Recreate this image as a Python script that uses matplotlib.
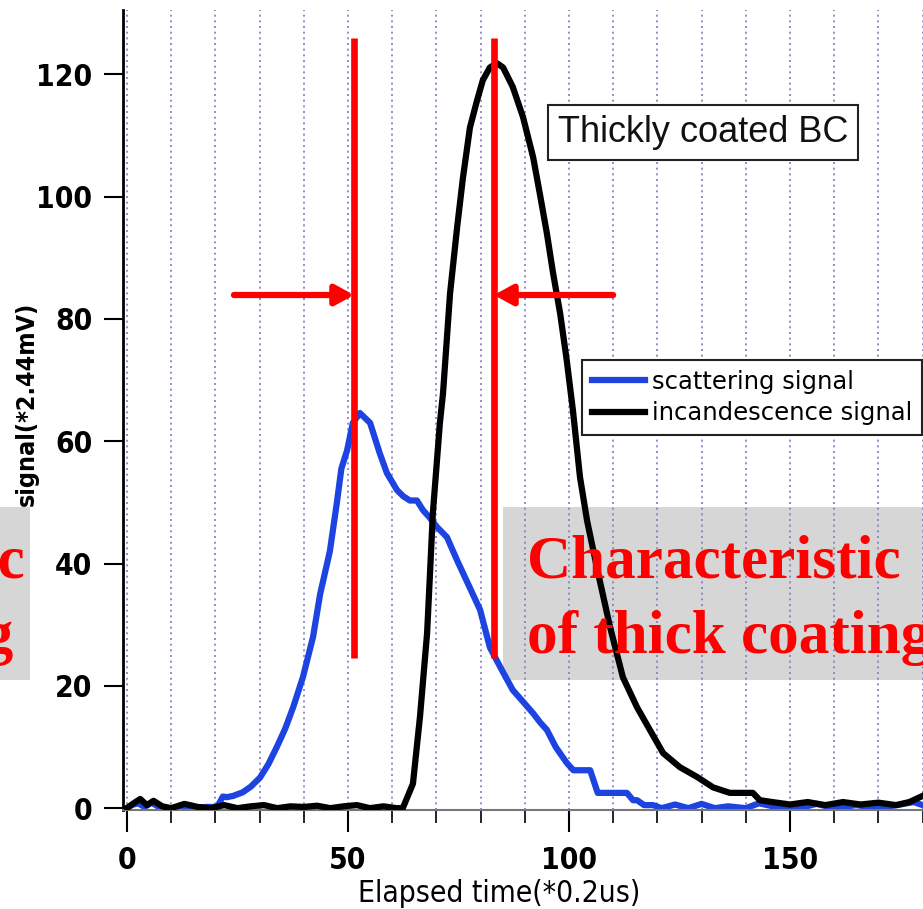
import numpy as np
import matplotlib.pyplot as plt
from matplotlib.patches import Rectangle
from matplotlib.ticker import MultipleLocator

# values (x in *0.2us, y in *2.44mV)
scat_x = [0, 1, 2.5, 4, 5.5, 7, 9, 12, 15, 18, 20.4, 21.7, 22.6, 24, 26.2, 28,
          30.1, 32, 33.9, 35.8, 37.6, 39.8, 42.1, 43.7, 45.9, 47.5, 48.5, 49.8,
          51.1, 52.7, 55, 57.2, 58.8, 61.1, 62.5, 64, 65.6, 67, 68.5, 70.1,
          72.4, 74.7, 77.6, 79.9, 82.1, 84.5, 87.3, 89.5, 91.9, 93.5, 95, 97,
          99.5, 101, 102.5, 104.8, 106.5, 108.6, 110.5, 113.1, 114.5, 115.4,
          117, 119, 121, 124, 127, 130, 133, 136, 140, 143, 148, 152, 156,
          160, 165, 170, 175, 178, 180]
scat_y = [0, 0.5, 0.8, 0.2, 0.9, 0.3, 0, 0, 0, 0.2, 0.2, 1.9, 1.8, 2.0, 2.6,
          3.5, 5, 7.2, 10, 13, 16.5, 21.4, 28, 35, 42, 50, 55.5, 58.5, 63,
          64.6, 63, 58, 54.8, 52, 51, 50.3, 50.3, 48.7, 47.5, 46, 44.3, 40.5,
          36, 32.4, 26.3, 23, 19.3, 17.5, 15.5, 14, 12.8, 10, 7.4, 6.2, 6.2,
          6.2, 2.5, 2.5, 2.5, 2.5, 1.3, 1.3, 0.5, 0.5, 0, 0.6, 0, 0.7, 0, 0.3,
          0, 0.8, 0, 0, 0.7, 0, 0.5, 0, 0.6, 1.0, 0.5]

inc_x = [0, 1.5, 3, 4.5, 6, 8, 10, 13, 16, 19, 22, 25, 28, 31, 34, 37, 40, 43,
         46, 49, 52, 55, 58, 61, 62.4, 64.7, 66.3, 67.9, 68.6, 69.2, 70.8,
         71.5, 73.1, 74.7, 76, 77.6, 79.2, 80.5, 82.1, 83.7, 85.1, 87.3, 89.6,
         91.9, 93.4, 95, 96.4, 98, 99.5, 100.9, 102.5, 104.1, 106.3, 109.3,
         112.2, 115.4, 118.3, 121.3, 125.1, 129, 132.6, 136.4, 141.6, 143.2,
         146, 150, 154, 158, 162, 166, 170, 174, 177, 180]
inc_y = [0, 0.8, 1.5, 0.5, 1.2, 0.3, 0, 0.7, 0.2, 0, 0.5, 0, 0.3, 0.5, 0, 0.3,
         0.2, 0.4, 0, 0.3, 0.5, 0, 0.3, 0, 0, 4, 15, 28.6, 39, 48.2, 63, 67.8,
         84.2, 95, 103, 111.3, 115.7, 119, 121.1, 121.8, 121.1, 117.9, 113,
         106.4, 100.5, 94, 87.5, 80.9, 73.2, 65, 54.1, 47, 39.4, 29.6, 21.4,
         16.5, 12.8, 9, 6.7, 5.1, 3.4, 2.5, 2.5, 1.3, 1.0, 0.6, 1.0, 0.5, 1.0,
         0.6, 0.9, 0.5, 1.0, 2.0]

peak_x = [51.4, 83.0]
arrow_y = 83.9

W, H = 923, 909
fig = plt.figure(figsize=(W / 100, H / 100), dpi=100)
ax = fig.add_axes([123 / W, 1 - 810 / H, 800 / W, 800 / H])
ax.set_xlim(-0.9, 180.1)
ax.set_ylim(-0.3, 130.5)

narrow = dict(family='DejaVu Sans', stretch='condensed')

# dotted vertical grid every 10
for gx in np.arange(0, 181, 10):
    ax.axvline(gx, color='#7b7bc8', lw=1.2, ls=(0, (1.2, 2.2)), zorder=1)

# grey note boxes
ax.add_artist(Rectangle((503 / W, 1 - 680 / H), 420 / W, 173 / H,
                        transform=fig.transFigure, facecolor='#d6d6d6',
                        edgecolor='none', zorder=0.5))
fig.add_artist(Rectangle((0, 1 - 680 / H), 30 / W, 173 / H,
                         transform=fig.transFigure, facecolor='#d6d6d6',
                         edgecolor='none', zorder=0.5))

ax.plot(scat_x, scat_y, color='#1d44e0', lw=4.5, zorder=2,
        label='scattering signal')
ax.plot(inc_x, inc_y, color='black', lw=4.5, zorder=3,
        label='incandescence signal')

for px in peak_x:
    ax.plot([px, px], [24.5, 125.9], color='red', lw=4.8,
            solid_capstyle='butt', zorder=4)

arrow_style = '-|>,head_length=0.55,head_width=0.3'
ax.annotate('', xy=(peak_x[0], arrow_y), xytext=(24.2, arrow_y),
            arrowprops=dict(arrowstyle=arrow_style, color='red', lw=4.5,
                            shrinkA=0, shrinkB=0, mutation_scale=20), zorder=4)
ax.annotate('', xy=(peak_x[1], arrow_y), xytext=(110, arrow_y),
            arrowprops=dict(arrowstyle=arrow_style, color='red', lw=4.5,
                            shrinkA=0, shrinkB=0, mutation_scale=20), zorder=4)

ax.text(130.3, 110.5, 'Thickly coated BC', ha='center', va='center',
        fontsize=26, family='Liberation Sans', color='#111', zorder=5,
        bbox=dict(boxstyle='square,pad=0.28', fc='white', ec='#222', lw=1.5))

leg = ax.legend(loc='upper left', bbox_to_anchor=(582 / W, 1 - 360 / H),
                bbox_transform=fig.transFigure, fancybox=False,
                edgecolor='#222', framealpha=1, handlelength=2.2,
                handletextpad=0.3, borderpad=0.4, labelspacing=0.3,
                borderaxespad=0, prop={'family': 'DejaVu Sans', 'size': 17.5})
leg.get_frame().set_linewidth(1.5)
leg.set_zorder(6)

# axes styling
for side in ['top', 'right']:
    ax.spines[side].set_visible(False)
ax.spines['left'].set_linewidth(2)
ax.spines['bottom'].set_color('#777777')
ax.spines['bottom'].set_linewidth(1.5)

ax.set_yticks(np.arange(0, 121, 20))
ax.set_xticks([0, 50, 100, 150])
ax.xaxis.set_minor_locator(MultipleLocator(10))
ax.tick_params(axis='y', length=14, width=1.5, pad=8)
ax.tick_params(axis='x', which='major', length=16, width=1.5, pad=10)
ax.tick_params(axis='x', which='minor', length=9, width=1.2)
for lab in ax.get_xticklabels() + ax.get_yticklabels():
    lab.set_family(narrow['family'])
    lab.set_stretch(narrow['stretch'])
    lab.set_fontweight('bold')
    lab.set_fontsize(21.5)

fig.text(27 / W, 1 - 404 / H, 'signal(*2.44mV)', rotation=90, ha='center',
         va='center', fontsize=18, fontweight='bold', **narrow)
fig.text(499 / W, 1 - 893 / H, 'Elapsed time(*0.2us)', ha='center',
         va='center', fontsize=21.5, **narrow)

# red annotation texts
serif = dict(family='Liberation Serif', fontweight='bold', fontsize=44,
             color='red', va='baseline')
fig.text(527 / W, 1 - 577 / H, 'Characteristic', ha='left', **serif)
fig.text(527 / W, 1 - 653 / H, 'of thick coating', ha='left', **serif)
fig.text(25 / W, 1 - 577 / H, 'Characteristic', ha='right', **serif)
fig.text(13 / W, 1 - 653 / H, 'of thin coating', ha='right', **serif)

fig.savefig('out.png', dpi=100)
